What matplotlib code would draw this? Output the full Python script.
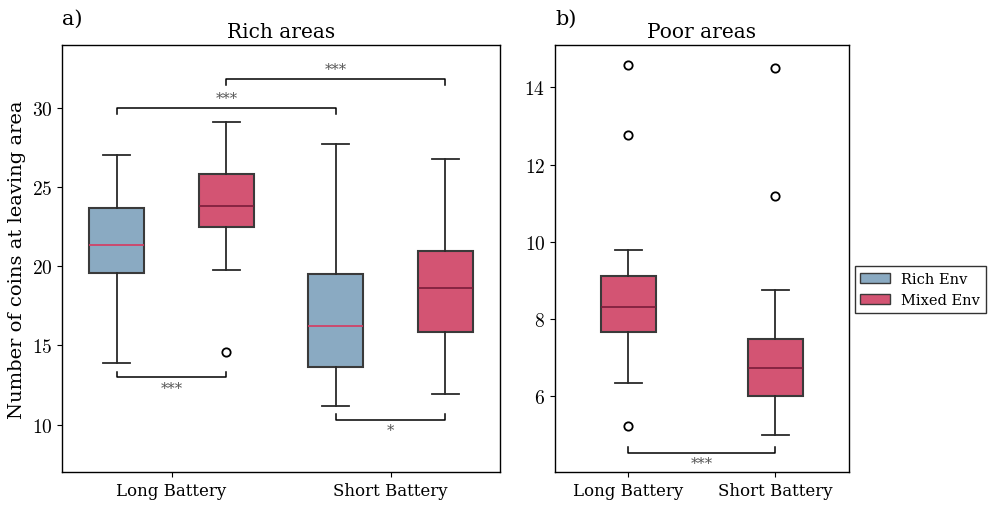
import numpy as np
import matplotlib
matplotlib.use("Agg")
import matplotlib.pyplot as plt
from matplotlib.patches import Patch
from matplotlib.ticker import FuncFormatter

plt.rcParams['font.family'] = ['DejaVu Serif']
plt.rcParams['mathtext.fontset'] = 'cm'

# data
batteries = ["Long Battery", "Short Battery"]
envs = ["Rich Env", "Mixed Env"]
env_colors = ["#8aaac2", "#d35473"]
median_colors = ["#d63a60", "#7a1c3a"]

# rich areas: [env][battery]
rich_whislo = [[13.9, 11.15], [19.8, 11.95]]
rich_q1 = [[19.6, 13.65], [22.5, 15.85]]
rich_med = [[21.35, 16.25], [23.8, 18.65]]
rich_q3 = [[23.7, 19.55], [25.85, 21.0]]
rich_whishi = [[27.05, 27.75], [29.15, 26.8]]
rich_fliers = [[[], []], [[14.6], []]]

# poor areas: mixed env only
poor_whislo = [6.33, 4.99]
poor_q1 = [7.67, 6.0]
poor_med = [8.32, 6.73]
poor_q3 = [9.12, 7.48]
poor_whishi = [9.78, 8.74]
poor_fliers = [[14.57, 12.77, 5.22], [14.5, 11.18]]

# significance brackets: (x1, x2, y, label, side)
rich_sig = [(0 - 0.25, 0 + 0.25, 13.0, "***", "below"),
            (1 - 0.25, 1 + 0.25, 10.3, "*", "below"),
            (0 - 0.25, 1 - 0.25, 30.0, "***", "above"),
            (0 + 0.25, 1 + 0.25, 31.85, "***", "above")]
poor_sig = [(0, 1, 4.52, "***", "below")]


def stats(lo, q1, med, q3, hi, fl):
    return dict(whislo=lo, q1=q1, med=med, q3=q3, whishi=hi, fliers=fl)


def draw_boxes(ax, st, positions, width, color, medcolor):
    ax.bxp(st, positions=positions, widths=width, patch_artist=True,
           boxprops=dict(facecolor=color, edgecolor="#3a3a3a", linewidth=1.5),
           medianprops=dict(color=medcolor, linewidth=1.2),
           whiskerprops=dict(color="#2a2a2a", linewidth=1.3),
           capprops=dict(color="#2a2a2a", linewidth=1.3),
           flierprops=dict(marker="o", markerfacecolor="none",
                           markeredgecolor="black", markersize=6,
                           markeredgewidth=1.3),
           manage_ticks=False)


def bracket(ax, x1, x2, y, label, side, h, off):
    d = h if side == "below" else -h
    ax.plot([x1, x1, x2, x2], [y + d, y, y, y + d], color="black", lw=1.1)
    ty = y - off if side == "below" else y + off
    va = "top" if side == "below" else "bottom"
    ax.text((x1 + x2) / 2, ty, label, ha="center", va=va,
            color="#555555", fontsize=10.5)


fig = plt.figure(figsize=(9.88, 5.06), dpi=100)
ax1 = fig.add_axes([0.0628, 0.0652, 0.4433, 0.8439])
ax2 = fig.add_axes([0.5617, 0.0652, 0.2976, 0.8439])

for e in range(2):
    st = [stats(rich_whislo[e][b], rich_q1[e][b], rich_med[e][b],
                rich_q3[e][b], rich_whishi[e][b], rich_fliers[e][b])
          for b in range(2)]
    pos = [b + (e - 0.5) * 0.5 for b in range(2)]
    draw_boxes(ax1, st, pos, 0.25, env_colors[e], median_colors[e])

st = [stats(poor_whislo[b], poor_q1[b], poor_med[b], poor_q3[b],
            poor_whishi[b], poor_fliers[b]) for b in range(2)]
draw_boxes(ax2, st, [0, 1], 0.38, env_colors[1], median_colors[1])

for x1, x2, y, lab, side in rich_sig:
    bracket(ax1, x1, x2, y, lab, side, 0.35, 0.22)
for x1, x2, y, lab, side in poor_sig:
    bracket(ax2, x1, x2, y, lab, side, 0.16, 0.07)

ax1.set_xlim(-0.5, 1.5)
ax1.set_ylim(7.0, 34.0)
ax1.set_yticks([10, 15, 20, 25, 30])
ax2.set_xlim(-0.5, 1.5)
ax2.set_ylim(4.03, 15.1)
ax2.set_yticks([6, 8, 10, 12, 14])

fmt = FuncFormatter(lambda v, p: r"$%d$" % v)
for ax in (ax1, ax2):
    ax.set_xticks([0, 1])
    ax.set_xticklabels(batteries, fontsize=12)
    ax.yaxis.set_major_formatter(fmt)
    ax.tick_params(axis="y", labelsize=14)
    for s in ax.spines.values():
        s.set_linewidth(1.0)

ax1.set_title("Rich areas", fontsize=14.5)
ax2.set_title("Poor areas", fontsize=14.5)
ax1.set_ylabel("Number of coins at leaving area", fontsize=14)
fig.text(0.0628, 0.962, "a)", fontsize=15, va="center")
fig.text(0.5617, 0.962, "b)", fontsize=15, va="center")

handles = [Patch(facecolor=env_colors[i], edgecolor="#3a3a3a", label=envs[i])
           for i in range(2)]
fig.legend(handles=handles, loc="upper left", bbox_to_anchor=(0.865, 0.472),
           fontsize=10.5, fancybox=False, edgecolor="black",
           borderaxespad=0.0, handlelength=2.0)

fig.savefig("out.png", dpi=100)
